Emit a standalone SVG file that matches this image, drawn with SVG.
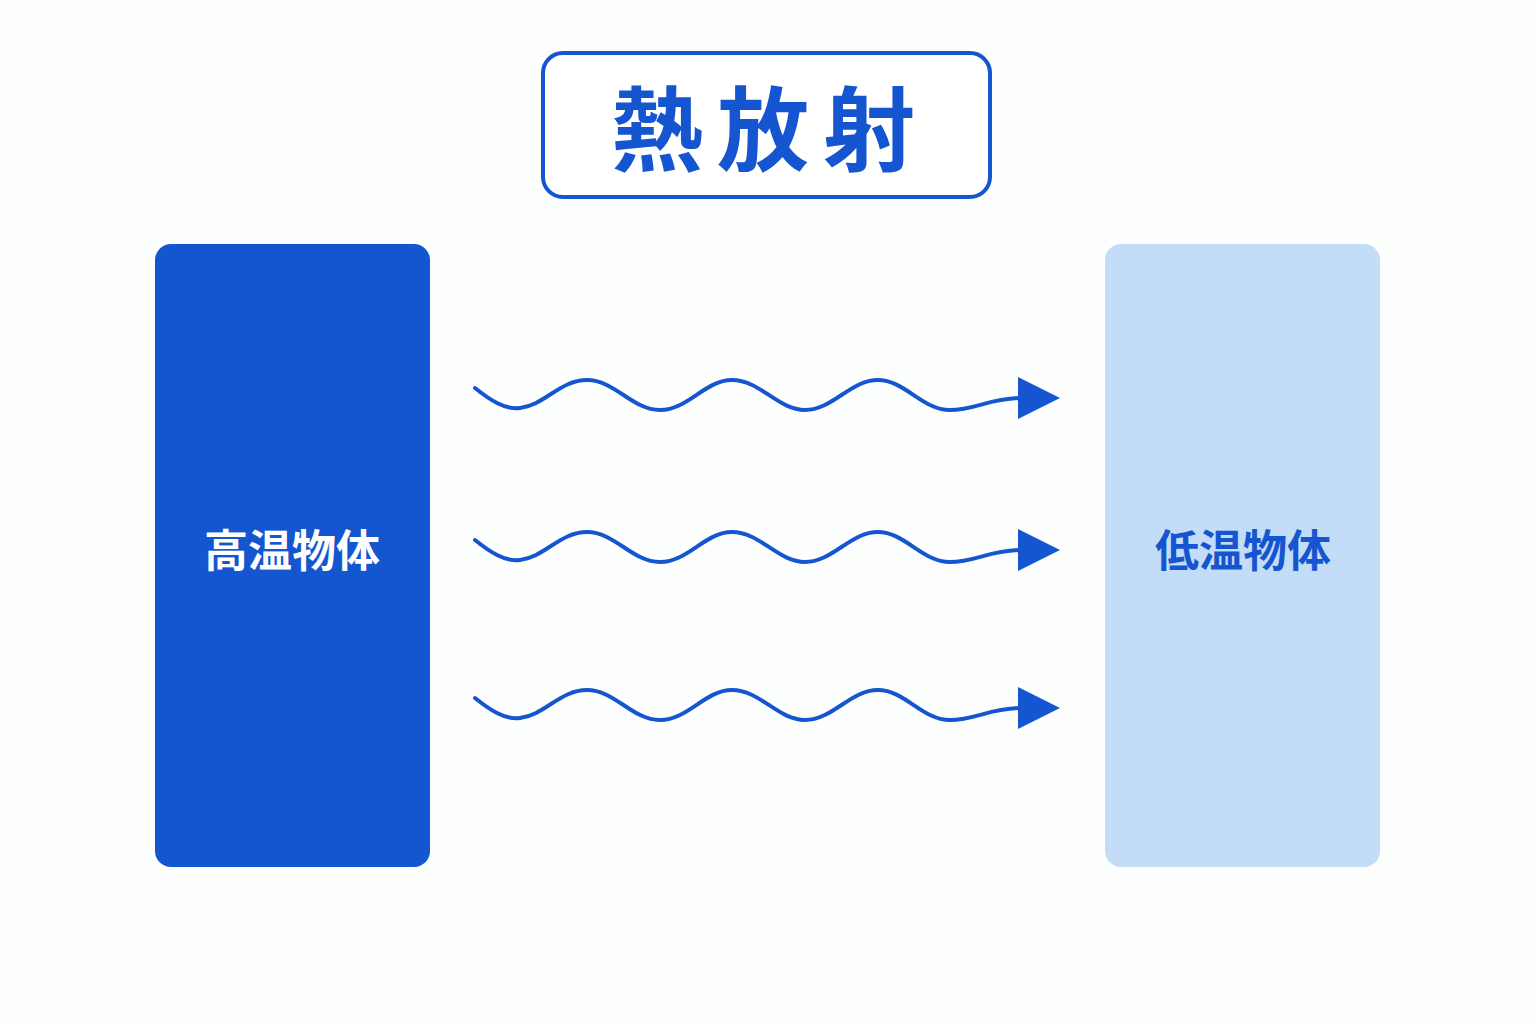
<svg xmlns="http://www.w3.org/2000/svg" width="1536" height="1024" viewBox="0 0 1536 1024">
<defs>
<style>
.t{font-family:"Noto Sans CJK JP","Noto Sans CJK SC",sans-serif;font-weight:700;text-anchor:middle}
.w{fill:none;stroke:#1556d0;stroke-width:4;stroke-linecap:round}
</style>
<g id="wave">
<path class="w" d="M475,388 C490,400 505,410 520,408 C545,405 560,380 587,380 C615,380 632,410 660,410 C688,410 705,380 732,380 C760,380 778,410 805,410 C833,410 850,380 878,380 C905,380 922,410 950,410 C975,410 990,398 1022,398"/>
<polygon points="1018,377 1060,398 1018,419" fill="#1556d0"/>
</g>
</defs>
<rect width="1536" height="1024" fill="#fdfefe"/>
<g id="title">
<rect x="543" y="53" width="447" height="144" rx="20" fill="#fff" stroke="#1556d0" stroke-width="4"/>
<text class="t" x="770" y="164" font-size="92" letter-spacing="14" fill="#1556d0">熱放射</text>
</g>
<g id="hot">
<rect x="155" y="244" width="275" height="623" rx="16" fill="#1356cf"/>
<text class="t" x="292" y="567" font-size="44" fill="#fff">高温物体</text>
</g>
<g id="cold">
<rect x="1105" y="244" width="275" height="623" rx="16" fill="#c3dcf7"/>
<text class="t" x="1243" y="567" font-size="44" fill="#1556d0">低温物体</text>
</g>
<g id="connectors">
<use href="#wave"/>
<use href="#wave" transform="translate(0,152)"/>
<use href="#wave" transform="translate(0,310)"/>
</g>
</svg>
